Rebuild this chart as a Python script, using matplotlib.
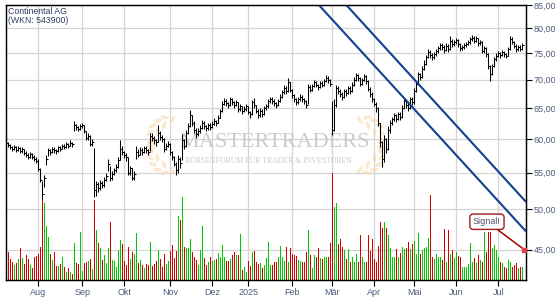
import numpy as np
import pandas as pd
import matplotlib
matplotlib.use('Agg')
import matplotlib.pyplot as plt
from matplotlib.patches import Ellipse
from matplotlib.transforms import IdentityTransform, blended_transform_factory
from matplotlib.ticker import FixedLocator, NullLocator

plt.rcParams['font.family'] = ['Liberation Sans', 'DejaVu Sans']

# XETRA trading days 10.07.2024 - 17.07.2025
xetra_holidays = ['2024-12-24', '2024-12-25', '2024-12-26', '2024-12-31',
                  '2025-01-01', '2025-04-18', '2025-04-21', '2025-05-01']
days = pd.bdate_range('2024-07-10', '2025-07-17', freq='C', holidays=xetra_holidays)

close = [59.4, 59.1, 58.8, 58.5, 58.8, 58.3, 58.6, 58.1, 58.4, 57.9,
         57.6, 57.3, 57.7, 57.3, 57.0, 56.7, 55.5, 54.0, 52.0, 54.2,
         57.0, 58.3, 58.0, 58.5, 58.3, 58.1, 58.7, 58.5, 59.0, 58.8,
         59.2, 59.0, 59.4, 59.2, 62.3, 61.9, 61.6, 62.0, 62.2, 61.3,
         60.2, 60.5, 59.3, 59.6, 52.5, 53.4, 52.8, 53.5, 53.2, 54.0,
         54.5, 56.2, 54.2, 54.8, 55.3, 55.8, 56.8, 58.5, 58.0, 57.6,
         57.2, 55.0, 55.6, 54.2, 54.8, 58.0, 57.6, 58.3, 58.0, 58.6,
         58.3, 58.0, 60.5, 60.2, 59.8, 59.5, 61.0, 60.3, 60.0, 58.5,
         59.0, 59.3, 58.0, 57.2, 56.3, 55.3, 57.0, 56.4, 59.8, 59.0,
         61.0, 62.0, 63.8, 62.6, 61.5, 60.8, 61.3, 61.8, 62.6, 62.0,
         61.7, 62.2, 61.9, 62.4, 62.9, 62.6, 63.4, 64.5, 65.8, 66.3,
         65.9, 65.5, 66.5, 66.0, 65.6, 66.0, 64.8, 65.3, 64.5, 64.9,
         65.3, 64.4, 64.0, 66.0, 65.5, 64.6, 63.8, 64.6, 64.0, 65.0,
         65.3, 66.2, 66.6, 66.2, 65.9, 65.6, 66.2, 67.0, 67.8, 68.5,
         68.0, 69.5, 68.2, 67.2, 66.5, 66.0, 66.5, 67.0, 66.6, 66.2,
         65.6, 68.6, 68.2, 68.9, 69.5, 69.1, 68.7, 69.4, 69.0, 69.8,
         70.3, 69.9, 69.2, 61.5, 65.5, 68.5, 68.0, 67.4, 67.0, 68.0,
         67.6, 68.5, 68.0, 69.0, 70.0, 70.8, 70.3, 69.2, 70.0, 70.6,
         69.8, 68.3, 67.5, 66.5, 65.8, 65.0, 62.5, 59.5, 57.0, 60.0,
         58.5, 61.5, 62.5, 63.2, 63.8, 63.2, 64.0, 63.5, 65.0, 66.2,
         65.6, 65.0, 66.5, 66.0, 68.0, 69.2, 71.0, 70.5, 72.0, 73.0,
         74.2, 75.3, 74.6, 74.2, 74.8, 75.4, 76.0, 76.6, 76.2, 75.6,
         76.5, 75.8, 77.5, 76.8, 77.2, 77.6, 76.8, 76.0, 76.3, 76.6,
         76.9, 77.2, 77.8, 78.1, 77.5, 78.0, 77.0, 77.3, 75.5, 76.0,
         74.8, 72.5, 71.0, 72.5, 73.8, 74.5, 75.0, 74.6, 75.2, 74.8,
         74.5, 75.8, 77.8, 77.3, 76.5, 75.8, 76.3, 75.9, 76.6]

high = [59.9, 59.6, 59.3, 59.0, 59.1, 58.9, 58.9, 58.8, 58.7, 58.5,
        58.1, 57.8, 58.0, 57.9, 57.5, 57.3, 56.9, 55.6, 53.8, 54.7,
        57.5, 58.6, 58.5, 58.8, 58.7, 58.5, 59.0, 58.9, 59.3, 59.2,
        59.5, 59.4, 59.8, 59.6, 62.9, 62.4, 62.1, 62.4, 62.6, 62.3,
        61.3, 60.9, 60.6, 60.0, 58.6, 53.8, 53.6, 53.9, 53.8, 54.3,
        54.9, 56.9, 56.0, 55.2, 55.7, 56.2, 57.2, 59.8, 58.9, 58.2,
        57.9, 57.3, 56.0, 55.7, 55.2, 59.0, 58.4, 58.8, 58.6, 59.0,
        58.9, 58.5, 61.0, 60.9, 60.4, 60.0, 62.3, 61.2, 60.6, 60.2,
        59.4, 59.7, 59.4, 58.2, 57.4, 56.5, 57.5, 57.3, 60.8, 60.0,
        61.4, 62.5, 64.7, 63.9, 62.8, 61.7, 61.7, 62.2, 63.0, 62.8,
        62.3, 62.6, 62.5, 62.8, 63.3, 63.1, 63.8, 64.9, 66.2, 66.8,
        66.5, 66.1, 66.9, 66.7, 66.2, 66.4, 66.1, 65.7, 65.4, 65.3,
        65.7, 65.4, 64.6, 66.4, 66.8, 65.6, 64.8, 65.0, 64.8, 65.4,
        65.8, 66.6, 67.0, 66.9, 66.5, 66.1, 66.6, 67.4, 68.2, 69.0,
        68.8, 70.4, 69.6, 68.4, 67.5, 66.8, 66.9, 67.4, 67.2, 66.8,
        66.4, 69.2, 69.0, 69.3, 69.9, 69.8, 69.3, 69.8, 69.7, 70.2,
        70.9, 70.6, 70.1, 66.3, 66.5, 69.0, 68.9, 68.3, 67.8, 68.4,
        68.3, 68.9, 68.8, 69.5, 70.5, 71.3, 71.0, 70.5, 70.4, 71.1,
        70.8, 70.0, 68.6, 67.8, 66.8, 66.0, 65.2, 62.6, 59.7, 60.6,
        60.2, 62.0, 63.0, 63.6, 64.2, 64.0, 64.4, 64.3, 65.5, 66.6,
        66.5, 65.9, 67.0, 66.9, 68.5, 69.7, 71.5, 71.3, 72.5, 73.6,
        74.7, 75.8, 75.6, 75.0, 75.2, 75.9, 76.5, 77.1, 77.0, 76.6,
        77.0, 76.8, 78.5, 77.8, 77.6, 78.1, 77.8, 77.0, 76.7, 77.0,
        77.3, 77.6, 78.2, 78.6, 78.4, 78.4, 78.1, 77.7, 77.4, 76.5,
        76.2, 75.0, 72.8, 73.0, 74.3, 75.0, 75.5, 75.3, 75.6, 75.5,
        75.1, 76.2, 78.5, 78.2, 77.5, 76.8, 76.7, 76.6, 77.0]

low = [58.9, 58.8, 58.5, 58.2, 58.3, 58.0, 58.1, 57.8, 57.9, 57.5,
       57.2, 56.9, 57.1, 56.9, 56.6, 56.4, 55.2, 53.6, 51.4, 53.0,
       56.1, 57.4, 57.6, 57.9, 57.9, 57.7, 58.0, 58.1, 58.4, 58.4,
       58.6, 58.6, 58.9, 58.8, 61.3, 61.4, 61.2, 61.4, 61.7, 61.0,
       59.8, 59.9, 58.9, 58.9, 51.6, 51.8, 52.3, 52.6, 52.8, 53.0,
       53.8, 55.2, 53.8, 54.0, 54.6, 55.1, 55.6, 56.8, 57.6, 57.1,
       56.6, 54.6, 54.7, 53.9, 54.0, 57.0, 57.2, 57.5, 57.6, 57.9,
       57.9, 57.6, 58.2, 59.7, 59.3, 59.0, 59.6, 59.9, 59.5, 58.0,
       58.3, 58.7, 57.6, 56.8, 55.9, 54.6, 55.0, 55.6, 56.8, 58.4,
       58.8, 60.8, 61.9, 62.1, 61.0, 60.2, 60.5, 61.0, 61.6, 61.6,
       61.2, 61.5, 61.5, 61.7, 62.2, 62.1, 62.5, 63.3, 64.3, 65.5,
       65.4, 65.0, 65.3, 65.6, 65.1, 65.3, 64.4, 64.5, 64.1, 64.3,
       64.6, 64.0, 63.4, 63.8, 65.0, 64.2, 63.4, 63.6, 63.6, 63.9,
       64.7, 65.1, 65.9, 65.8, 65.4, 65.1, 65.4, 66.0, 66.8, 67.5,
       67.5, 67.8, 67.8, 66.8, 66.0, 65.5, 65.7, 66.2, 66.1, 65.7,
       65.1, 65.8, 67.8, 67.9, 68.6, 68.6, 68.2, 68.5, 68.6, 68.8,
       69.5, 69.4, 68.8, 60.6, 61.3, 65.2, 67.5, 66.9, 66.4, 66.8,
       67.1, 67.4, 67.5, 67.8, 68.8, 69.8, 69.8, 68.8, 69.0, 69.8,
       69.3, 67.9, 67.0, 66.0, 65.3, 64.4, 62.0, 58.8, 55.8, 56.5,
       57.8, 58.3, 61.0, 62.2, 62.9, 62.7, 63.0, 63.0, 63.3, 64.8,
       65.1, 64.5, 64.8, 65.5, 65.8, 67.8, 69.0, 70.0, 70.3, 71.8,
       72.8, 74.0, 74.0, 73.7, 73.9, 74.5, 75.1, 75.7, 75.7, 75.1,
       75.4, 75.3, 75.7, 76.3, 76.5, 76.9, 76.3, 75.5, 75.6, 75.9,
       76.2, 76.6, 76.9, 77.4, 77.0, 77.2, 76.5, 76.6, 75.0, 75.0,
       74.3, 72.0, 69.7, 70.8, 72.3, 73.5, 74.2, 74.1, 74.4, 74.3,
       74.0, 74.4, 75.6, 76.8, 76.0, 75.3, 75.5, 75.4, 75.7]

# volume (relative units)
volume = [24, 28, 21, 18, 15, 17, 21, 32, 22, 16,
          25, 21, 15, 12, 23, 24, 26, 33, 81, 77,
          54, 43, 26, 20, 28, 14, 14, 16, 23, 13,
          8, 12, 8, 6, 37, 17, 16, 48, 9, 17,
          18, 19, 21, 11, 80, 50, 37, 32, 20, 25,
          17, 32, 58, 20, 19, 13, 30, 40, 36, 19,
          15, 33, 21, 28, 26, 47, 17, 20, 15, 12,
          16, 15, 38, 14, 16, 19, 30, 21, 13, 26,
          16, 19, 29, 35, 22, 29, 64, 60, 83, 33,
          32, 32, 41, 28, 23, 20, 15, 30, 54, 22,
          15, 18, 23, 19, 20, 21, 27, 23, 35, 23,
          19, 19, 21, 25, 28, 25, 25, 46, 10, 13,
          8, 19, 14, 28, 29, 18, 16, 17, 12, 15,
          22, 38, 15, 15, 18, 18, 23, 34, 23, 19,
          33, 18, 32, 26, 25, 24, 20, 19, 18, 18,
          28, 50, 25, 12, 25, 23, 32, 22, 21, 23,
          23, 23, 37, 107, 73, 77, 36, 41, 33, 30,
          21, 31, 18, 23, 18, 26, 18, 45, 23, 18,
          18, 45, 29, 41, 21, 18, 34, 58, 52, 58,
          52, 45, 32, 23, 23, 31, 23, 27, 33, 31,
          32, 38, 31, 36, 39, 26, 47, 26, 30, 32,
          33, 42, 85, 23, 21, 26, 23, 23, 20, 51,
          18, 50, 26, 30, 22, 28, 24, 23, 13, 13,
          13, 16, 37, 18, 22, 17, 25, 20, 18, 48,
          28, 48, 48, 32, 35, 30, 23, 18, 17, 13,
          12, 20, 18, 13, 15, 17, 12, 13, 13]

month_labels = ['Aug', 'Sep', 'Okt', 'Nov', 'Dez', '2025', 'Feb', 'Mär', 'Apr', 'Mai', 'Jun', 'Jul']
price_ticks = [45, 50, 55, 60, 65, 70, 75, 80, 85]

# trend channel, two anchor points each (date, price)
channel_upper = [('2025-04-03', 77.6), ('2025-07-17', 51.5)]
channel_lower = [('2025-04-03', 71.8), ('2025-07-17', 47.7)]
signal_price = 45.0

idx = np.arange(len(days))
close = np.array(close)
month_start = [i for i in range(1, len(days)) if days[i].month != days[i - 1].month]
up = np.r_[True, close[1:] >= close[:-1]]
vol_colors = np.where(up, '#00c800', '#d40000')

fig = plt.figure(figsize=(5.55, 3.0), dpi=100)
ax = fig.add_axes([5.5 / 555, 20 / 300, 520.5 / 555, 275 / 300])
ax2 = ax.twinx()
xlim = (-0.4, 259.85)

# volume (bottom layer)
ax.bar(idx, volume, width=0.55, color=vol_colors, linewidth=0, zorder=2)
ax.set_ylim(0, 275)
ax.set_yticks([])
ax.set_xlim(*xlim)
ax.set_xticks(month_start)
ax.set_xticklabels(month_labels)
ax.set_axisbelow(True)
ax.grid(axis='x', color='#d4d4d4', linewidth=0.9)
ax.tick_params(axis='x', length=4, width=0.8, pad=1.5, labelsize=6.5, labelcolor='#4d5b7c')

# price
ax2.set_yscale('log')
ax2.set_ylim(41.6, 85)
ax2.yaxis.set_major_locator(FixedLocator(price_ticks))
ax2.yaxis.set_minor_locator(NullLocator())
ax2.set_yticklabels([f'{v:.2f}'.replace('.', ',') for v in price_ticks])
ax2.tick_params(axis='y', length=4, width=0.8, pad=1.5, labelsize=6.5, labelcolor='#4d5b7c')

hline_tr = blended_transform_factory(ax.transAxes, ax2.transData)
for v in price_ticks:
    ax.plot([0, 1], [v, v], transform=hline_tr, color='#d4d4d4', lw=0.9, zorder=0.6)

ax2.vlines(idx, low, high, color='black', lw=0.75)
ax2.hlines(close, idx, idx + 0.6, color='black', lw=0.75)

def channel(points, xs):
    (d0, p0), (d1, p1) = points
    i0 = days.get_loc(pd.Timestamp(d0))
    i1 = days.get_loc(pd.Timestamp(d1))
    return p0 * (p1 / p0) ** ((xs - i0) / (i1 - i0))

xs = np.array(xlim)
for ch in (channel_upper, channel_lower):
    ax2.plot(xs, channel(ch, xs), color='#123f8f', lw=1.5, solid_capstyle='butt')
ax2.set_xlim(*xlim)

# signal marker + label
sig_tr = blended_transform_factory(ax2.transAxes, ax2.transData)
ax2.plot([0.997], [signal_price], 's', ms=3.5, color='#e0404a', transform=sig_tr, clip_on=False, zorder=5)
ax2.annotate('Signal!', xy=(0.997, signal_price), xycoords=sig_tr,
             xytext=(0.925, 48.4), textcoords=sig_tr, ha='center', va='center',
             fontsize=6.5, color='#4a5068',
             bbox=dict(boxstyle='round,pad=0.35', fc='white', ec='#a01818', lw=1.0),
             arrowprops=dict(arrowstyle='-', color='#a00000', lw=1.1, shrinkA=0, shrinkB=2))

for sp in list(ax.spines.values()) + list(ax2.spines.values()):
    sp.set_color('black')
    sp.set_linewidth(0.9)

# watermark
for cx, a0, a1 in ((178, 110, 250), (354, -70, 70)):
    for ang in np.linspace(a0, a1, 9):
        t = np.radians(ang)
        px, py = cx + 28 * np.cos(t), 145 - 28 * np.sin(t)
        for off in (-4, 4):
            ax.add_patch(Ellipse((px + off * np.sin(t), 300 - py + off * np.cos(t)), 9, 3.6,
                                 angle=ang + 90 + off * 8, transform=IdentityTransform(),
                                 color='#f7d8aa', alpha=0.55, lw=0, zorder=1))
ax.text(0.518, 0.50, 'MASTERTRADERS', transform=ax.transAxes, ha='center', va='center',
        fontsize=16, family='Liberation Serif', color='#cbcbcb', zorder=1)
ax.text(0.506, 0.432, 'BÖRSENFORUM FÜR TRADER & INVESTOREN', transform=ax.transAxes,
        ha='center', va='center', fontsize=5.6, family='Liberation Serif', color='#cbcbcb', zorder=1)

fig.text(8 / 555, 1 - 7 / 300, 'Continental AG\n(WKN: 543900)', ha='left', va='top',
         fontsize=6.3, color='#2f3d60', linespacing=1.05)

fig.savefig('out.png', dpi=100)
